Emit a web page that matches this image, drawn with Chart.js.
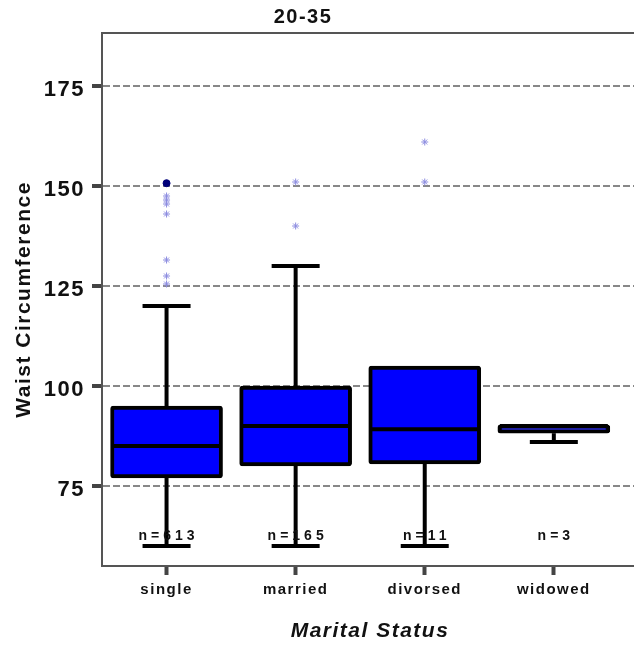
<!DOCTYPE html>
<html>
<head>
<meta charset="utf-8">
<script src="https://cdn.jsdelivr.net/npm/chart.js@4.4.1/dist/chart.umd.min.js"></script>
<style>
html, body { margin: 0; padding: 0; background: #fff; overflow: hidden; }
#wrap { position: relative; width: 643px; height: 645px; }
</style>
</head>
<body>
<div id="wrap"><canvas id="box-chart"></canvas></div>
<script>
const categories = ['single', 'married', 'divorsed', 'widowed'];
const counts = [613, 165, 11, 3];
const lowWhisker = [60, 60, 60, 86];
const q1Values = [77, 80, 80.5, 88.2];
const medianValues = [85, 90, 89.2, 90];
const q3Values = [95, 100, 105, 90.3];
const highWhisker = [120, 130, 105, 90.3];
const outlierValues = [[147.5, 146.5, 145.5, 143, 131.5, 127.5, 125.5], [151, 140], [161, 151], []];
const extremeValues = [[150.7], [], [], []];
const yTicks = [75, 100, 125, 150, 175];

const font = "'Liberation Sans', Arial, sans-serif";

const boxData = categories.map((c, i) => ({ x: i + 1, y: [q1Values[i], q3Values[i]] }));
const outlierPoints = [];
outlierValues.forEach((list, i) => list.forEach(v => outlierPoints.push({ x: i + 1, y: v })));
const extremePoints = [];
extremeValues.forEach((list, i) => list.forEach(v => extremePoints.push({ x: i + 1, y: v })));

function line(ctx, x1, y1, x2, y2) {
    ctx.beginPath();
    ctx.moveTo(x1, y1);
    ctx.lineTo(x2, y2);
    ctx.stroke();
}

// whiskers, medians, n= labels, frame and title
const boxPlotDecor = {
    id: 'boxPlotDecor',
    beforeUpdate(chart) { chart.ctx.letterSpacing = '1.5px'; },
    beforeDraw(chart) { chart.ctx.letterSpacing = '1.5px'; },
    beforeDatasetsDraw(chart) {
        const { ctx, scales: { x, y } } = chart;
        ctx.save();
        ctx.strokeStyle = '#000';
        ctx.lineWidth = 4;
        categories.forEach((c, i) => {
            const cx = x.getPixelForValue(i + 1);
            if (highWhisker[i] > q3Values[i]) {
                const yt = y.getPixelForValue(highWhisker[i]);
                line(ctx, cx, y.getPixelForValue(q3Values[i]), cx, yt);
                line(ctx, cx - 24, yt, cx + 24, yt);
            }
            if (lowWhisker[i] < q1Values[i]) {
                const yb = y.getPixelForValue(lowWhisker[i]);
                line(ctx, cx, y.getPixelForValue(q1Values[i]), cx, yb);
                line(ctx, cx - 24, yb, cx + 24, yb);
            }
        });
        ctx.restore();
    },
    afterDatasetsDraw(chart) {
        const { ctx, scales: { x, y } } = chart;
        ctx.save();
        ctx.strokeStyle = '#000';
        ctx.lineWidth = 4;
        categories.forEach((c, i) => {
            const cx = x.getPixelForValue(i + 1);
            const ym = y.getPixelForValue(medianValues[i]);
            line(ctx, cx - 54, ym, cx + 54, ym);
        });
        ctx.fillStyle = '#111';
        ctx.font = 'bold 14px ' + font;
        ctx.letterSpacing = '4px';
        ctx.textAlign = 'center';
        ctx.textBaseline = 'middle';
        categories.forEach((c, i) => {
            ctx.fillText('n=' + counts[i], x.getPixelForValue(i + 1) + 2, y.getPixelForValue(62.4));
        });
        ctx.restore();
    },
    afterDraw(chart) {
        const { ctx, chartArea } = chart;
        ctx.save();
        ctx.strokeStyle = '#555';
        ctx.lineWidth = 2;
        ctx.strokeRect(chartArea.left, chartArea.top, chartArea.right - chartArea.left, chartArea.bottom - chartArea.top);
        ctx.fillStyle = '#111';
        ctx.font = 'bold 20px ' + font;
        ctx.letterSpacing = '1.5px';
        ctx.textAlign = 'center';
        ctx.textBaseline = 'middle';
        ctx.fillText('20-35', 303, 17);
        ctx.restore();
    }
};

const ctx = document.getElementById('box-chart').getContext('2d');

new Chart(ctx, {
    type: 'bar',
    data: {
        datasets: [
            {
                type: 'scatter',
                data: extremePoints,
                pointStyle: 'circle',
                radius: 3.5,
                backgroundColor: '#00007a',
                borderColor: '#00007a'
            },
            {
                type: 'scatter',
                data: outlierPoints,
                pointStyle: 'star',
                radius: 3.5,
                borderWidth: 1,
                backgroundColor: 'rgba(0,0,0,0)',
                borderColor: '#8c8ce0'
            },
            {
                data: boxData,
                backgroundColor: '#0000ff',
                borderColor: '#000',
                borderWidth: 4,
                borderSkipped: false,
                borderRadius: 3,
                barThickness: 112
            }
        ]
    },
    options: {
        responsive: true,
        maintainAspectRatio: false,
        animation: false,
        events: [],
        layout: { padding: { top: 33, right: 0, bottom: 0, left: 0 } },
        plugins: {
            legend: { display: false },
            tooltip: { enabled: false },
            title: { display: false }
        },
        scales: {
            x: {
                type: 'linear',
                offset: false,
                min: 0.5,
                max: 4.652,
                afterBuildTicks: scale => { scale.ticks = categories.map((c, i) => ({ value: i + 1 })); },
                afterFit: scale => { scale.height = 79; },
                ticks: {
                    callback: value => categories[value - 1],
                    color: '#111',
                    font: { family: font, size: 15, weight: 'bold' },
                    padding: 6,
                    maxRotation: 0
                },
                grid: {
                    offset: false,
                    drawOnChartArea: false,
                    drawTicks: true,
                    tickLength: 9,
                    tickWidth: 4,
                    tickColor: '#444'
                },
                border: { color: '#666', width: 2 },
                title: {
                    display: true,
                    text: 'Marital Status',
                    color: '#111',
                    font: { family: font, size: 21, weight: 'bold', style: 'italic' },
                    padding: { top: 0, bottom: 1 }
                }
            },
            y: {
                min: 55,
                max: 188.25,
                afterBuildTicks: scale => { scale.ticks = yTicks.map(v => ({ value: v })); },
                afterFit: scale => { scale.width = 102; },
                ticks: {
                    color: '#111',
                    font: { family: font, size: 22, weight: 'bold' },
                    padding: 7,
                    labelOffset: 4
                },
                grid: {
                    color: '#888',
                    lineWidth: 2,
                    drawTicks: true,
                    tickLength: 10,
                    tickWidth: 4,
                    tickColor: '#444'
                },
                border: { color: '#666', width: 2, dash: [7, 3] },
                title: {
                    display: true,
                    text: 'Waist Circumference',
                    color: '#111',
                    font: { family: font, size: 21, weight: 'bold' },
                    padding: { top: 12, bottom: 0 }
                }
            }
        }
    },
    plugins: [boxPlotDecor]
});
</script>
</body>
</html>
